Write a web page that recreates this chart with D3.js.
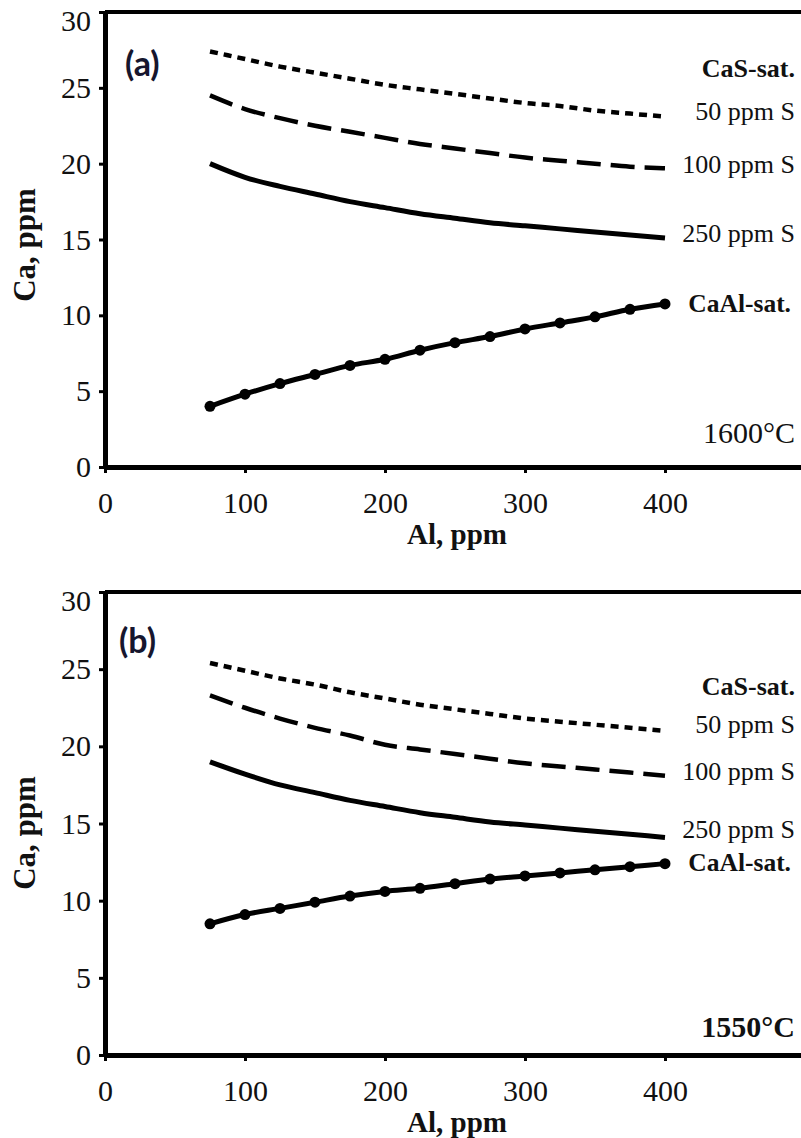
<!DOCTYPE html>
<html>
<head>
<meta charset="utf-8">
<script src="https://cdn.jsdelivr.net/npm/d3@7"></script>
<style>
  html, body { margin: 0; padding: 0; background: #fff; }
  svg { display: block; }
</style>
</head>
<body>
<svg id="chart" width="801" height="1138"></svg>
<script>
// ---------- DATA ----------
const alValues = [75, 100, 125, 150, 175, 200, 225, 250, 275, 300, 325, 350, 375, 400];

// Panel (a) 1600°C
const a_S50   = [27.4, 26.9, 26.4, 26.0, 25.6, 25.2, 24.9, 24.6, 24.3, 24.0, 23.8, 23.5, 23.3, 23.1];
const a_S100  = [24.5, 23.6, 23.0, 22.5, 22.1, 21.7, 21.3, 21.0, 20.7, 20.4, 20.2, 20.0, 19.8, 19.7];
const a_S250  = [20.0, 19.1, 18.5, 18.0, 17.5, 17.1, 16.7, 16.4, 16.1, 15.9, 15.7, 15.5, 15.3, 15.1];
const a_CaAl  = [4.0, 4.8, 5.5, 6.1, 6.7, 7.1, 7.7, 8.2, 8.6, 9.1, 9.5, 9.9, 10.4, 10.75];

// Panel (b) 1550°C
const b_S50   = [25.4, 24.9, 24.4, 24.0, 23.5, 23.1, 22.7, 22.4, 22.1, 21.8, 21.6, 21.4, 21.2, 21.0];
const b_S100  = [23.3, 22.5, 21.8, 21.2, 20.7, 20.1, 19.8, 19.5, 19.2, 18.9, 18.7, 18.5, 18.3, 18.1];
const b_S250  = [19.0, 18.2, 17.5, 17.0, 16.5, 16.1, 15.7, 15.4, 15.1, 14.9, 14.7, 14.5, 14.3, 14.1];
const b_CaAl  = [8.5, 9.1, 9.5, 9.9, 10.3, 10.6, 10.8, 11.1, 11.4, 11.6, 11.8, 12.0, 12.2, 12.4];

const xTicks = [0, 100, 200, 300, 400];
const yTicks = [0, 5, 10, 15, 20, 25, 30];
const seriesLabels = ["50 ppm S", "100 ppm S", "250 ppm S"];
const panelLabels = ["(a)", "(b)"];
const tempLabels = ["1600°C", "1550°C"];
const xTitle = "Al, ppm";
const yTitle = "Ca, ppm";

// ---------- LAYOUT ----------
const svg = d3.select("#chart");
const serif = "'Liberation Serif', 'Times New Roman', serif";

const panels = [
  { top: 12, bottom: 467, label: panelLabels[0], temp: tempLabels[0], tempBold: false,
    series: [a_S50, a_S100, a_S250], caal: a_CaAl,
    labelY: { cas: 77, s: [120, 173, 242], caal: 312, temp: 443 }, tag: { x: 125, y: 76 } },
  { top: 592, bottom: 1055, label: panelLabels[1], temp: tempLabels[1], tempBold: true,
    series: [b_S50, b_S100, b_S250], caal: b_CaAl,
    labelY: { cas: 695, s: [733, 780, 838], caal: 871, temp: 1037 }, tag: { x: 119, y: 653 } }
];

const styles = [
  { dash: "8,6", width: 4.5 },
  { dash: "24,10", width: 4.5 },
  { dash: null, width: 5 }
];

const x = d3.scaleLinear().domain([0, 500]).range([105, 805]);

panels.forEach(p => {
  const y = d3.scaleLinear().domain([0, 30]).range([p.bottom, p.top]);
  const g = svg.append("g");

  // top border
  g.append("line")
    .attr("x1", x(0)).attr("x2", x(500))
    .attr("y1", y(30)).attr("y2", y(30))
    .attr("stroke", "#000").attr("stroke-width", 4);

  // y axis
  const yAxis = g.append("g")
    .attr("transform", `translate(${x(0)},0)`)
    .call(d3.axisLeft(y).tickValues(yTicks).tickSize(6).tickSizeOuter(0).tickPadding(8));
  // x axis
  const xAxis = g.append("g")
    .attr("transform", `translate(0,${y(0)})`)
    .call(d3.axisBottom(x).tickValues(xTicks).tickSize(6).tickSizeOuter(0).tickPadding(19));

  [yAxis, xAxis].forEach(ax => {
    ax.attr("font-family", serif);
    ax.select(".domain").attr("stroke", "#000").attr("stroke-width", 5);
    ax.selectAll(".tick line").attr("stroke", "#000").attr("stroke-width", 3);
    ax.selectAll(".tick text")
      .attr("font-family", serif).attr("font-size", 30).attr("fill", "#111");
  });
  // top label sits a little below its tick, as in the original
  yAxis.selectAll(".tick text").filter(d => d === 30).attr("dy", "0.62em");

  // axis titles
  g.append("text")
    .attr("x", 457).attr("y", y(0) + 77)
    .attr("text-anchor", "middle")
    .attr("font-family", serif).attr("font-weight", "bold").attr("font-size", 29)
    .attr("fill", "#111")
    .text(xTitle);
  g.append("text")
    .attr("transform", `translate(35,${y(0) - 222}) rotate(-90)`)
    .attr("text-anchor", "middle")
    .attr("font-family", serif).attr("font-weight", "bold").attr("font-size", 31)
    .attr("fill", "#111")
    .text(yTitle);

  // CaS series lines
  const line = d3.line()
    .x((d, i) => x(alValues[i]))
    .y(d => y(d))
    .curve(d3.curveMonotoneX);

  p.series.forEach((vals, k) => {
    g.append("path")
      .datum(vals)
      .attr("d", line)
      .attr("fill", "none")
      .attr("stroke", "#000")
      .attr("stroke-width", styles[k].width)
      .attr("stroke-dasharray", styles[k].dash);
  });

  // CaAl-sat line with markers
  g.append("path")
    .datum(p.caal)
    .attr("d", line)
    .attr("fill", "none")
    .attr("stroke", "#000")
    .attr("stroke-width", 5);
  g.selectAll("circle.m")
    .data(p.caal)
    .join("circle")
    .attr("class", "m")
    .attr("cx", (d, i) => x(alValues[i]))
    .attr("cy", d => y(d))
    .attr("r", 5.5)
    .attr("fill", "#000");

  // right-side labels
  const rx = 795;
  g.append("text")
    .attr("x", rx).attr("y", p.labelY.cas)
    .attr("text-anchor", "end")
    .attr("font-family", serif).attr("font-weight", "bold").attr("font-size", 26)
    .attr("fill", "#111").text("CaS-sat.");
  seriesLabels.forEach((t, k) => {
    g.append("text")
      .attr("x", rx).attr("y", p.labelY.s[k])
      .attr("text-anchor", "end")
      .attr("font-family", serif).attr("font-size", 26)
      .attr("fill", "#111").text(t);
  });
  g.append("text")
    .attr("x", 791).attr("y", p.labelY.caal)
    .attr("text-anchor", "end")
    .attr("font-family", serif).attr("font-weight", "bold").attr("font-size", 25.5)
    .attr("fill", "#111").text("CaAl-sat.");
  g.append("text")
    .attr("x", rx).attr("y", p.labelY.temp)
    .attr("text-anchor", "end")
    .attr("font-family", serif).attr("font-weight", p.tempBold ? "bold" : "normal")
    .attr("font-size", 30)
    .attr("fill", "#111").text(p.temp);

  // panel tag
  g.append("text")
    .attr("x", p.tag.x).attr("y", p.tag.y)
    .attr("font-family", "Lato, 'Open Sans', sans-serif").attr("font-weight", "bold")
    .attr("font-size", 34)
    .attr("fill", "#16162e").text(p.label);
});
</script>
</body>
</html>
